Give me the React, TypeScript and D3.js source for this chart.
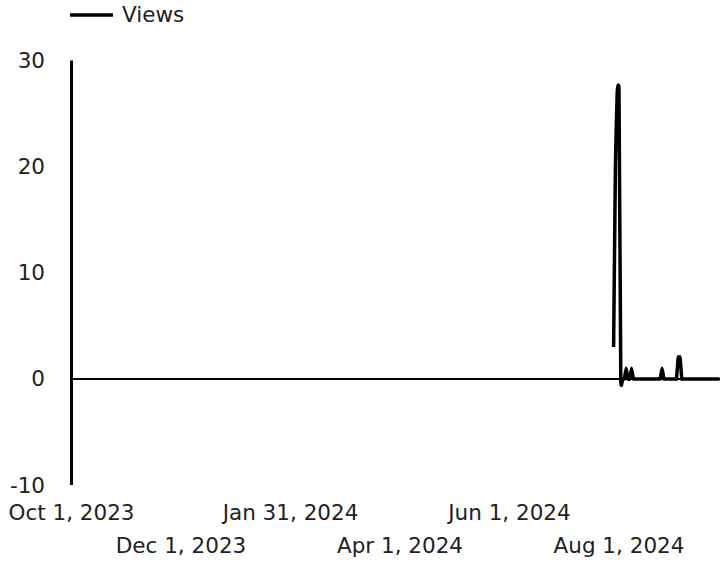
import React from "react";
import * as d3 from "d3";

// Daily view counts, starting from the first recorded day
const firstViewDay = "2024-07-29";
const dailyViews = [
  3, 20, 27, 27, 0, 0, 0, 1, 0, 0, 1, 0, 0, 0, 0, 0, 0, 0, 0, 0,
  0, 0, 0, 0, 0, 0, 0, 1, 0, 0, 0, 0, 0, 0, 0, 0, 2, 2, 0, 0,
  0, 0, 0, 0, 0, 0, 0, 0, 0, 0, 0, 0, 0, 0, 0, 0, 0, 0, 0, 0,
];

const xDomain = ["2023-10-01", "2024-09-30"];
const xTickDates = ["2023-10-01", "2023-12-01", "2024-01-31", "2024-04-01", "2024-06-01", "2024-08-01"];
const yTicks = [-10, 0, 10, 20, 30];
const seriesName = "Views";

const W = 720;
const H = 562;
const FONT = "'DejaVu Sans', sans-serif";
const TEXT = "#222";
const FS = 21.5;

export default function App() {
  const parse = d3.utcParse("%Y-%m-%d");
  const start = parse(firstViewDay)!;
  const data = dailyViews.map((v, i) => ({ date: d3.utcDay.offset(start, i), value: v }));

  const x = d3
    .scaleUtc()
    .domain(xDomain.map((d) => parse(d)!))
    .range([71.5, 726.7]);
  const y = d3.scaleLinear().domain([-10, 30]).range([485, 60.5]);

  const line = d3
    .line<{ date: Date; value: number }>()
    .x((d) => x(d.date))
    .y((d) => y(d.value))
    .curve(d3.curveCardinal.tension(0.7));

  const fmt = d3.utcFormat("%b %-d, %Y");

  return (
    <svg
      width={W}
      height={H}
      style={{ position: "fixed", left: 0, top: 0, background: "#fff" }}
    >
      {/* legend */}
      <line x1={70} x2={113} y1={15} y2={15} stroke="#000" strokeWidth={3.5} />
      <text x={122} y={22} fontFamily={FONT} fontSize={FS} fill={TEXT}>
        {seriesName}
      </text>

      {/* y axis */}
      <line x1={71.5} x2={71.5} y1={y(30)} y2={y(-10)} stroke="#000" strokeWidth={3} />
      {yTicks.map((t) => (
        <text
          key={t}
          x={45}
          y={y(t)}
          textAnchor="end"
          dominantBaseline="central"
          fontFamily={FONT}
          fontSize={FS}
          fill={TEXT}
        >
          {t}
        </text>
      ))}

      {/* zero baseline */}
      <line x1={71.5} x2={W} y1={y(0)} y2={y(0)} stroke="#000" strokeWidth={2} />

      {/* x tick labels, alternating rows */}
      {xTickDates.map((d, i) => (
        <text
          key={d}
          x={x(parse(d)!)}
          y={i % 2 === 0 ? 520 : 553}
          textAnchor="middle"
          fontFamily={FONT}
          fontSize={FS}
          fill={TEXT}
        >
          {fmt(parse(d)!)}
        </text>
      ))}

      {/* series line */}
      <path
        d={line(data) ?? ""}
        fill="none"
        stroke="#000"
        strokeWidth={3.5}
        strokeLinejoin="round"
      />
    </svg>
  );
}
